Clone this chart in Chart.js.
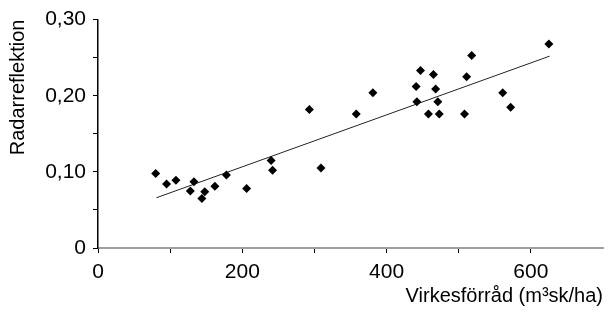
<!DOCTYPE html>
<html>
<head>
<meta charset="utf-8">
<script src="https://cdn.jsdelivr.net/npm/chart.js@4.4.0/dist/chart.umd.min.js"></script>
<style>
  html, body { margin: 0; padding: 0; background: #fff; }
  #wrap { width: 616px; height: 320px; position: relative; }
</style>
</head>
<body>
<div id="wrap"><canvas id="lienzo"></canvas></div>
<script>
// virkesförråd (m3sk/ha) per provyta
var volym = [80, 95, 108, 128, 133, 144, 148, 162, 178, 206, 240, 242,
             293, 309, 358, 381, 441, 447, 465, 442, 468, 471, 458, 473,
             508, 511, 518, 561, 572, 625];
// radarreflektion per provyta
var reflektion = [0.098, 0.084, 0.089, 0.075, 0.087, 0.065, 0.074, 0.081, 0.096, 0.078, 0.115, 0.102,
                  0.182, 0.105, 0.176, 0.204, 0.212, 0.233, 0.228, 0.192, 0.209, 0.192, 0.176, 0.176,
                  0.176, 0.225, 0.253, 0.204, 0.185, 0.268];
// trendlinjens ändpunkter
var trendX = [81, 626];
var trendY = [0.066, 0.252];

var xTicks = [0, 200, 400, 600];
var yTicks = [0, 0.1, 0.2, 0.3];

var punkter = volym.map(function (v, i) { return { x: v, y: reflektion[i] }; });
var linje = trendX.map(function (v, i) { return { x: v, y: trendY[i] }; });

Chart.defaults.font.family = '"Liberation Sans", Arial, sans-serif';
Chart.defaults.color = '#000';

var myChart = new Chart(document.getElementById('lienzo'), {
	type: 'scatter',
	data: {
		datasets: [
			{
				label: 'Provytor',
				data: punkter,
				pointStyle: 'rectRot',
				pointRadius: 4.5,
				backgroundColor: '#000',
				borderColor: '#000',
				borderWidth: 0
			},
			{
				label: 'Trend',
				type: 'line',
				data: linje,
				showLine: true,
				pointRadius: 0,
				borderColor: '#222',
				borderWidth: 1
			}
		]
	},
	options: {
		responsive: true,
		maintainAspectRatio: false,
		animation: false,
		layout: { padding: { top: 15, right: 13, left: 0, bottom: 0 } },
		plugins: {
			legend: { display: false },
			tooltip: { enabled: false }
		},
		scales: {
			x: {
				type: 'linear',
				min: 0,
				max: 700,
				afterFit: function (s) { s.height = 72; },
				border: { color: '#a0a0a0', width: 2 },
				grid: {
					drawOnChartArea: false,
					tickLength: 5,
					tickColor: function (c) { return c.tick && c.tick.value === 700 ? 'rgba(0,0,0,0)' : '#000'; }
				},
				ticks: {
					stepSize: 100,
					padding: 7,
					maxRotation: 0,
					autoSkip: false,
					font: { size: 21 },
					callback: function (v) { return xTicks.indexOf(v) >= 0 ? String(v) : ''; }
				},
				title: {
					display: true,
					text: 'Virkesförråd (m³sk/ha)',
					align: 'end',
					font: { size: 20 },
					padding: { top: 0, bottom: 12 }
				}
			},
			y: {
				min: 0,
				max: 0.3,
				afterFit: function (s) { s.width = 98; },
				border: { color: '#000', width: 1.5 },
				grid: {
					drawOnChartArea: false,
					tickLength: 5,
					tickColor: '#000'
				},
				ticks: {
					stepSize: 0.05,
					padding: 7,
					autoSkip: false,
					font: { size: 21 },
					callback: function (v) {
						var r = Math.round(v * 100) / 100;
						var hit = yTicks.some(function (t) { return Math.abs(t - r) < 1e-6; });
						if (!hit) return '';
						return r === 0 ? '0' : r.toFixed(2).replace('.', ',');
					}
				},
				title: {
					display: true,
					text: 'Radarreflektion',
					align: 'end',
					font: { size: 20 },
					padding: { top: 6, bottom: 0 }
				}
			}
		}
	}
});
</script>
</body>
</html>
